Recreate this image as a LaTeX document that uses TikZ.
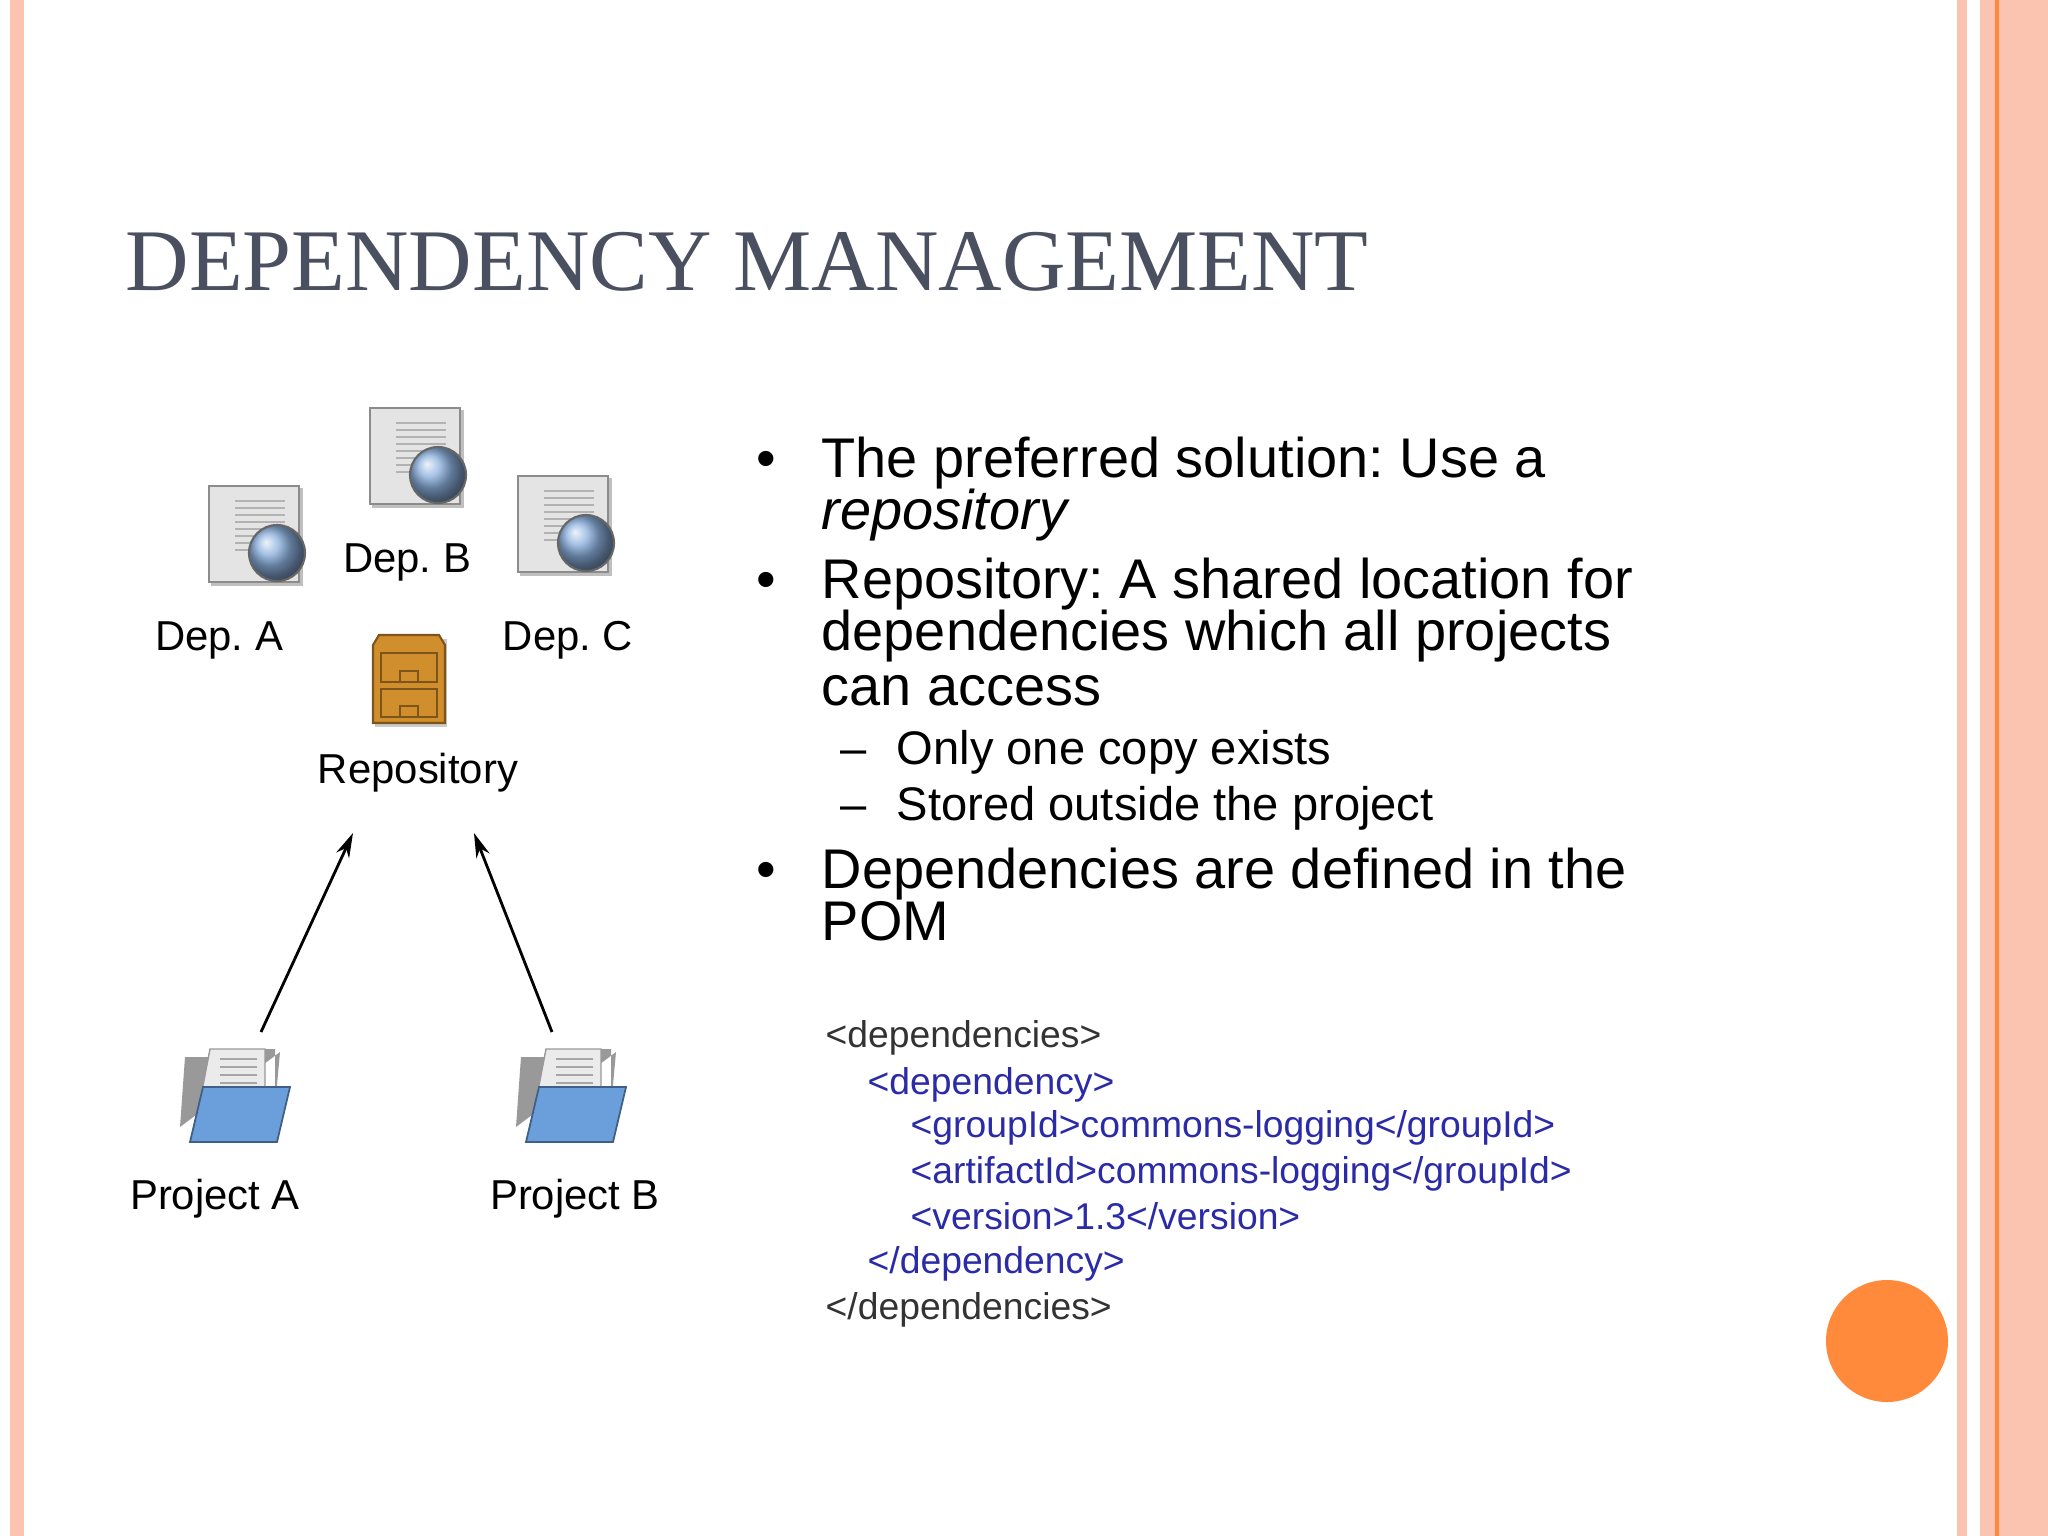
\documentclass[tikz,border=0pt]{standalone}
\usepackage{fontspec}
\setmainfont{Liberation Serif}
\newfontfamily\arial{Liberation Sans}
\definecolor{salmon}{HTML}{FBC4B0}
\definecolor{orng}{HTML}{FF8A3C}
\definecolor{titlec}{HTML}{4B5060}
\definecolor{codeblue}{HTML}{2B2BA8}
\definecolor{docgray}{HTML}{E4E4E4}
\definecolor{globeb}{HTML}{5A8ED0}
\definecolor{folderb}{HTML}{6A9FDC}
\definecolor{cab}{HTML}{D08E2C}
\tikzset{
  bul/.style={anchor=base west,inner sep=0pt,font=\arial\fontsize{15.9}{19}\selectfont},
  sub/.style={anchor=base west,inner sep=0pt,font=\arial\fontsize{13.4}{16}\selectfont},
  code/.style={anchor=base west,inner sep=0pt,font=\arial\fontsize{10.6}{12}\selectfont},
  lab/.style={inner sep=0pt,font=\arial\fontsize{11.9}{14}\selectfont},
  arr/.style={-{Stealth[length=7pt,width=4pt]},line width=0.8pt}
}
\usetikzlibrary{arrows.meta}
\newcommand{\docicon}[2]{%
  \begin{scope}[shift={(#1)}]
  \fill[black!25] (-44,-47) rectangle (48,51);
  \fill[docgray] (-46,-49) rectangle (44,47);
  \draw[black!45,line width=0.5pt] (-46,-49) rectangle (44,47);
  \foreach \yy in {-34,-27,...,20} \draw[black!30,line width=0.6pt] (-20,\yy) -- (30,\yy);
  \shade[ball color=globeb!70!white] (22,18) circle (28);
  \draw[black!60,line width=0.6pt] (22,18) circle (28);
  \node (#2) at (0,0) {};
  \end{scope}}
\newcommand{\foldericon}[2]{%
  \begin{scope}[shift={(#1)},yscale=-1]
  \fill[black!40] (-55,-30) -- (-50,40) -- (-10,40) -- (-15,48) -- (40,48) -- (40,-10) -- (45,45) -- cycle;
  \fill[black!8] (-38,-20) -- (-25,48) -- (30,48) -- (30,-20) -- cycle;
  \draw[black!40] (-38,-20) -- (-25,48) -- (30,48) -- (30,-20);
  \foreach \yy in {38,30,...,5} \draw[black!35,line width=0.8pt] (-15,\yy) -- (22,\yy);
  \fill[folderb] (-45,-45) -- (-32,10) -- (55,10) -- (42,-45) -- cycle;
  \draw[folderb!60!black,line width=0.5pt] (-45,-45) -- (-32,10) -- (55,10) -- (42,-45) -- cycle;
  \node (#2) at (0,0) {};
  \end{scope}}
\begin{document}
\frenchspacing
\begin{tikzpicture}[x=0.01cm,y=-0.01cm]
\useasboundingbox (0,0) rectangle (2048,1536);
\fill[white] (0,0) rectangle (2048,1536);
% borders
\fill[salmon] (10,0) rectangle (24,1536);
\fill[salmon] (1957,0) rectangle (1967,1536);
\fill[salmon] (1980,0) rectangle (2048,1536);
\draw[orng,line width=0.9pt] (1997,0) -- (1997,1536);
% title
\node[anchor=base west,inner sep=0pt,text=titlec,font=\fontsize{25}{30}\selectfont] (title) at (125,290) {DEPENDENCY MANAGEMENT};
% icons
\docicon{255,535}{depa}
\docicon{416,457}{depb}
\docicon{564,525}{depc}
\node[lab] (la) at (219,640) {Dep. A};
\node[lab] (lb) at (407,562) {Dep. B};
\node[lab] (lc) at (568,640) {Dep. C};
% repository cabinet
\begin{scope}[shift={(409,679)}]
\fill[black!20] (-34,-40) rectangle (38,48);
\fill[cab] (-36,-34) -- (-30,-44) -- (30,-44) -- (36,-34) -- (36,44) -- (-36,44) -- cycle;
\draw[cab!60!black,line width=0.6pt] (-36,-34) -- (-30,-44) -- (30,-44) -- (36,-34) -- (36,44) -- (-36,44) -- cycle;
\draw[cab!60!black,line width=0.6pt] (-28,-26) rectangle (28,3) (-28,10) rectangle (28,38);
\draw[cab!60!black,line width=0.6pt] (-9,-8) rectangle (9,3) (-9,27) rectangle (9,38);
\node (repo) at (0,0) {};
\end{scope}
\node[lab] (lr) at (418,773) {Repository};
% projects
\foldericon{235,1097}{pa}
\foldericon{571,1097}{pb}
\node[lab] (lpa) at (215,1199) {Project A};
\node[lab] (lpb) at (575,1199) {Project B};
\coordinate (sa) at (261,1032);
\coordinate (ea) at (353,833);
\coordinate (sb) at (552,1032);
\coordinate (eb) at (474,833);
\draw[arr] (sa) -- (ea);
\draw[arr] (sb) -- (eb);
% bullets
\foreach \yy in {477,598,888} \node[bul] at (756,\yy) {•};
\node[bul] (b1) at (821,477) {The preferred solution: Use a};
\node[bul] (b1b) at (821,529) {\itshape repository};
\node[bul] (b2) at (821,598) {Repository: A shared location for};
\node[bul] (b2b) at (821,650) {dependencies which all projects};
\node[bul] (b2c) at (821,705) {can access};
\node[sub] at (840,764) {–};
\node[sub] at (840,820) {–};
\node[sub] (s1) at (896,764) {Only one copy exists};
\node[sub] (s2) at (896,820) {Stored outside the project};
\node[bul] (b3) at (821,888) {Dependencies are defined in the};
\node[bul] (b3b) at (821,940) {POM};
% code
\node[code,text=black!80] at (825,1047) {<dependencies>};
\node[code,text=codeblue] at (867,1094) {<dependency>};
\node[code,text=codeblue] at (910,1137) {<groupId>commons-logging</groupId>};
\node[code,text=codeblue] at (910,1183) {<artifactId>commons-logging</groupId>};
\node[code,text=codeblue] at (910,1229) {<version>1.3</version>};
\node[code,text=codeblue] at (867,1273) {</dependency>};
\node[code,text=black!80] at (825,1319) {</dependencies>};
% orange circle
\fill[orng] (1887,1341) circle (61);
\end{tikzpicture}
\end{document}
